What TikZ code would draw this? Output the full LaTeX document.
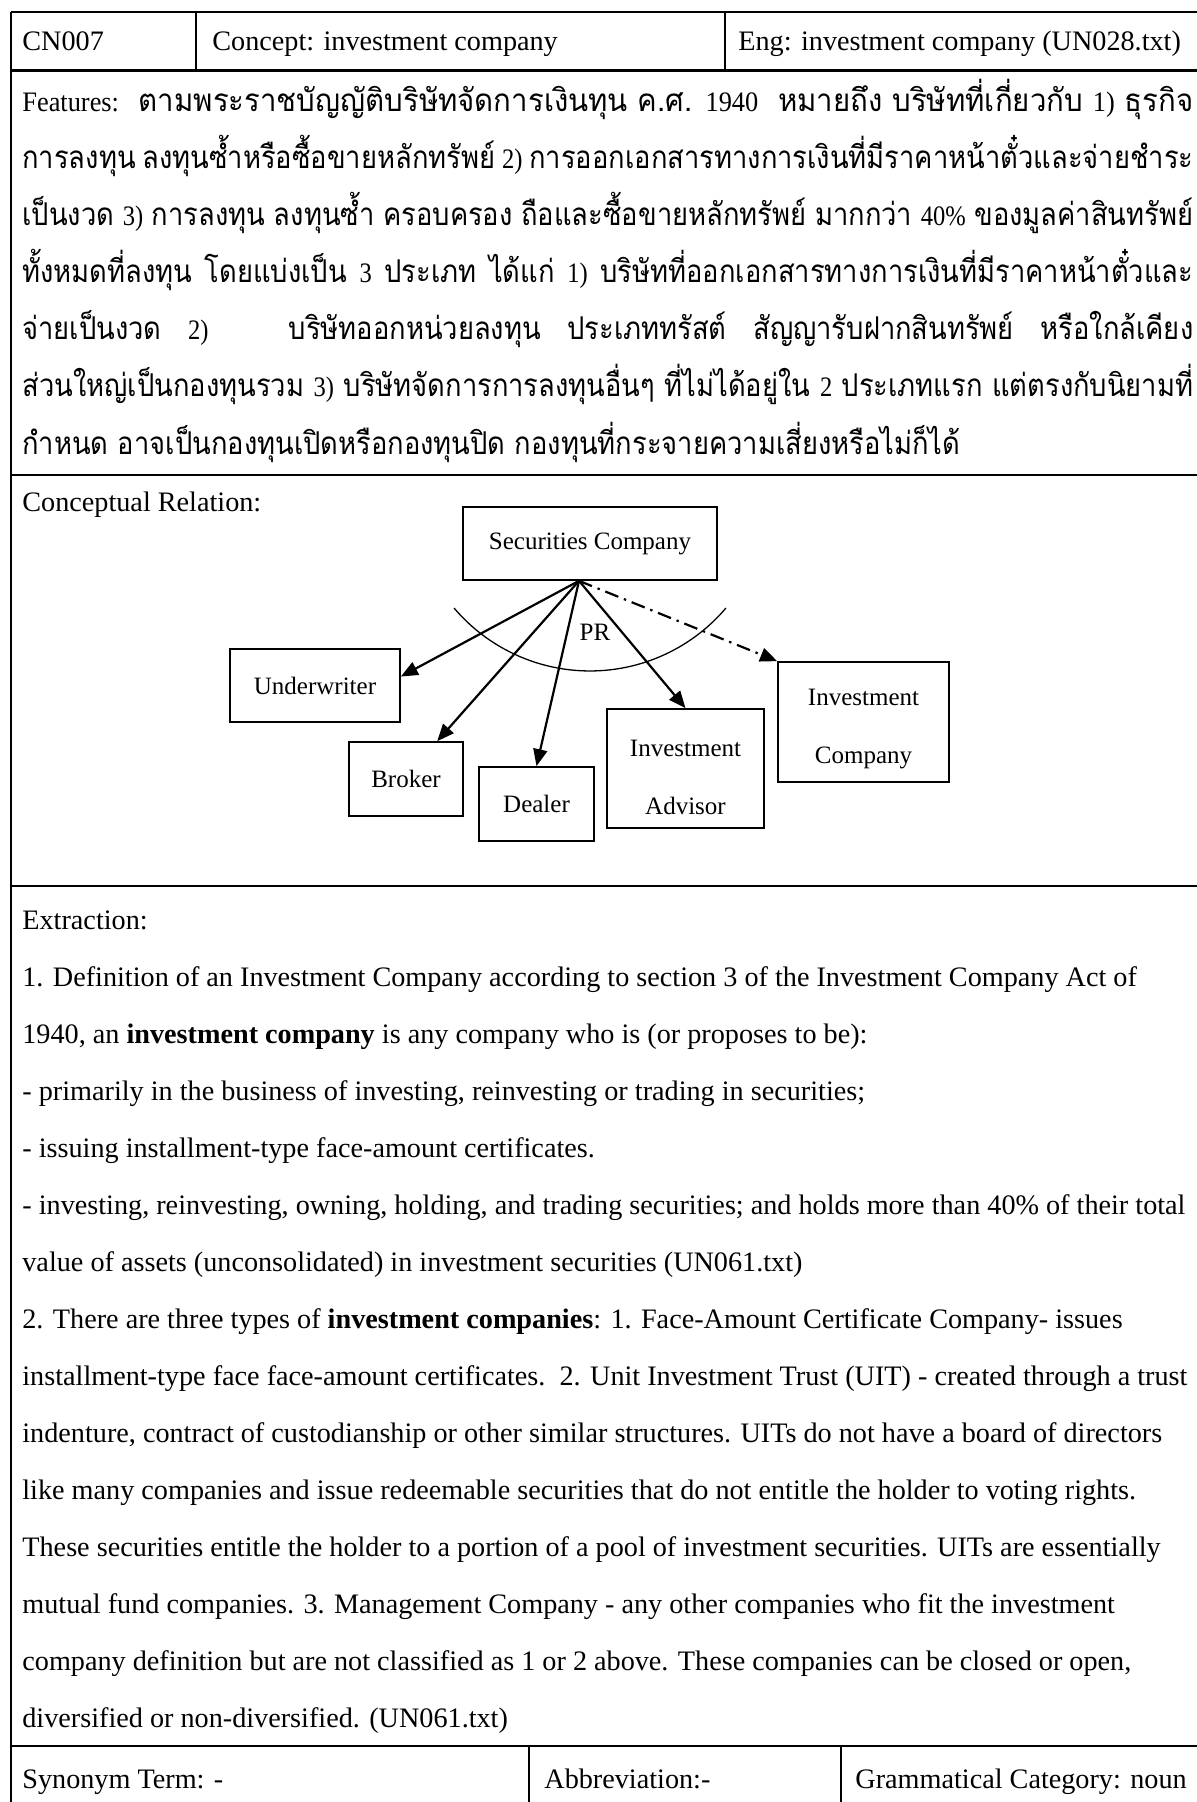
\documentclass[tikz,border=0pt]{standalone}
\usepackage{graphicx}
\usepackage{fontspec}
\setmainfont{Liberation Serif}
\newfontfamily\thaifont[Script=Thai]{Loma}
\usetikzlibrary{arrows.meta,calc}

\newlength\thaiwidth
\newlength\fitlen
\newsavebox\fitbox
\newcommand\bodyfont{\fontsize{14.1pt}{17pt}\selectfont}
\newcommand\diagfont{\fontsize{12.5pt}{29pt}\selectfont}
\newcommand\lat[1]{{\rmfamily\bodyfont #1}}
% squeeze or stretch one line of text to an exact width (in pt)
\newcommand\fitline[2]{\sbox\fitbox{#2}\setlength\fitlen{\wd\fitbox}%
  \pgfmathsetmacro\fitscale{#1/\fitlen}\scalebox{\fitscale}[1]{\usebox\fitbox}}
% condense by the common Thai factor, then justify by the spaces
\newcommand\justline[2]{\pgfmathsetmacro\justw{#1/\thaic}%
  \scalebox{\thaic}[1]{\makebox[\justw pt][s]{#2}}}

\begin{document}
% the closing line of the features sets both the size and the condensing of the Thai face
\settowidth\thaiwidth{\thaifont\fontsize{10pt}{12pt}\selectfont กำหนด อาจเป็นกองทุนเปิดหรือกองทุนปิด กองทุนที่กระจายความเสี่ยงหรือไม่ก็ได้}
\pgfmathsetmacro\thaisize{10*539/\thaiwidth}
\pgfmathsetmacro\thaic{469/539}
\newcommand\thaitext{\thaifont\fontsize{\thaisize pt}{\thaisize pt}\selectfont}

\begin{tikzpicture}[x=0.5pt,y=-0.5pt,
  rule/.style={line width=1.4pt},
  colrule/.style={line width=1.1pt},
  txt/.style={anchor=base west,inner sep=0pt,font=\bodyfont},
  thl/.style={anchor=base west,inner sep=0pt},
  box/.style={draw,line width=0.85pt,inner sep=0pt,font=\diagfont,align=center},
  boxtext/.style={inner sep=0pt,font=\diagfont,align=center},
  rel/.style={line width=1.1pt,-{Triangle[length=8.5pt,width=7pt]}},
  relmaybe/.style={rel,dash pattern=on 7pt off 3pt on 1.2pt off 3pt},
]
\useasboundingbox (0,0) rectangle (1197,1802);

% ---- table rules
\draw[rule] (11,12) -- (1197,12);
\draw[rule] (11,12) -- (11,1802);
\draw[rule] (11,70.5) -- (1197,70.5);
\draw[colrule] (196,12) -- (196,70.5);
\draw[colrule] (725,12) -- (725,70.5);
\draw[rule] (11,475) -- (1197,475);
\draw[rule] (11,886) -- (1197,886);
\draw[rule] (11,1746) -- (1197,1746);
\draw[colrule] (529,1746) -- (529,1802);
\draw[colrule] (841,1746) -- (841,1802);

% ---- header row
\node[txt] (id) at (22,50.5) {CN007};
\node[txt] (concept) at (212,50.5) {Concept: investment company};
\node[txt] (eng) at (738,50.5) {Eng: investment company (UN028.txt)};

% ---- features (Thai), justified lines
\node[thl] (f1) at (22,112) {\fitline{585.5}{\thaitext\lat{Features:}\ \ ตามพระราชบัญญัติบริษัทจัดการเงินทุน ค.ศ. \lat{1940}\ \ หมายถึง บริษัทที่เกี่ยวกับ \lat{1)} ธุรกิจ}};
\node[thl] (f2) at (22,169) {\justline{585.5}{\thaitext การลงทุน ลงทุนซ้ำหรือซื้อขายหลักทรัพย์\ \lat{2)} การออกเอกสารทางการเงินที่มีราคาหน้าตั๋วและจ่ายชำระ}};
\node[thl] (f3) at (22,226) {\justline{585.5}{\thaitext เป็นงวด \lat{3)} การลงทุน ลงทุนซ้ำ ครอบครอง ถือและซื้อขายหลักทรัพย์ มากกว่า \lat{40\%} ของมูลค่าสินทรัพย์}};
\node[thl] (f4) at (22,283) {\justline{585.5}{\thaitext ทั้งหมดที่ลงทุน โดยแบ่งเป็น \lat{3} ประเภท ได้แก่ \lat{1)} บริษัทที่ออกเอกสารทางการเงินที่มีราคาหน้าตั๋วและ}};
\node[thl] (f5) at (22,340) {\justline{585.5}{\thaitext จ่ายเป็นงวด \lat{2)}\ \ \ บริษัทออกหน่วยลงทุน ประเภททรัสต์ สัญญารับฝากสินทรัพย์ หรือใกล้เคียง}};
\node[thl] (f6) at (22,397) {\justline{585.5}{\thaitext ส่วนใหญ่เป็นกองทุนรวม \lat{3)} บริษัทจัดการการลงทุนอื่นๆ ที่ไม่ได้อยู่ใน \lat{2} ประเภทแรก แต่ตรงกับนิยามที่}};
\node[thl] (f7) at (22,454) {\scalebox{\thaic}[1]{\thaitext กำหนด อาจเป็นกองทุนเปิดหรือกองทุนปิด กองทุนที่กระจายความเสี่ยงหรือไม่ก็ได้}};

% ---- conceptual relation
\node[txt] (crel) at (22,511.5) {Conceptual Relation:};

\node[box,minimum width=127pt,minimum height=36.5pt] (sc) at (590,543.5) {Securities Company};
\node[box,minimum width=85pt,minimum height=36.5pt] (uw) at (315,685.5) {Underwriter};
\node[box,minimum width=57pt,minimum height=37pt] (br) at (406,779) {Broker};
\node[box,minimum width=57.5pt,minimum height=37pt] (dl) at (536.5,804) {Dealer};
\node[box,minimum width=78.5pt,minimum height=59.5pt] (ia) at (685.5,768.5) {};
\node[boxtext] (iat) at (685.5,777) {Investment\\Advisor};
\node[box,minimum width=85.5pt,minimum height=60pt] (ic) at (863.5,722) {};
\node[boxtext] (ict) at (863.5,729.5) {Investment\\Company};

% arc marking the grouped relation
\coordinate (arcL) at (454,608);
\draw[line width=0.65pt] (arcL) arc[start angle=139.7,end angle=40.3,radius=178.3];
\node[inner sep=0pt,font=\diagfont] (pr) at (595,632) {PR};

\coordinate (o) at ($(sc.south west)!0.457!(sc.south east)$);
\draw[rel] (o) -- ($(uw.north east)!0.38!(uw.south east)$);
\draw[rel] (o) -- ($(br.north west)!0.77!(br.north east)$);
\draw[rel] (o) -- (dl.north);
\draw[rel] (o) -- (ia.north);
\draw[relmaybe] (o) -- (ic.north west);

% ---- extraction
\node[txt] (ex) at (22,929.5) {Extraction:};
\node[txt] (e1) at (22,986.5) {1. Definition of an Investment Company according to section 3 of the Investment Company Act of};
\node[txt] (e2) at (22,1043.5) {1940, an \textbf{investment company} is any company who is (or proposes to be):};
\node[txt] (e3) at (22,1100.5) {- primarily in the business of investing, reinvesting or trading in securities;};
\node[txt] (e4) at (22,1157.5) {- issuing installment-type face-amount certificates.};
\node[txt] (e5) at (22,1214.5) {- investing, reinvesting, owning, holding, and trading securities; and holds more than 40\% of their total};
\node[txt] (e6) at (22,1271.5) {value of assets (unconsolidated) in investment securities (UN061.txt)};
\node[txt] (e7) at (22,1328.5) {2. There are three types of \textbf{investment companies}: 1. Face-Amount Certificate Company- issues};
\node[txt] (e8) at (22,1385.5) {installment-type face face-amount certificates.\ \ 2. Unit Investment Trust (UIT) - created through a trust};
\node[txt] (e9) at (22,1442.5) {indenture, contract of custodianship or other similar structures. UITs do not have a board of directors};
\node[txt] (e10) at (22,1499.5) {like many companies and issue redeemable securities that do not entitle the holder to voting rights.};
\node[txt] (e11) at (22,1556.5) {These securities entitle the holder to a portion of a pool of investment securities. UITs are essentially};
\node[txt] (e12) at (22,1613.5) {mutual fund companies. 3. Management Company - any other companies who fit the investment};
\node[txt] (e13) at (22,1670.5) {company definition but are not classified as 1 or 2 above. These companies can be closed or open,};
\node[txt] (e14) at (22,1727.5) {diversified or non-diversified. (UN061.txt)};

% ---- bottom row
\node[txt] (syn) at (22,1788) {Synonym Term: -};
\node[txt] (abbr) at (544,1788) {Abbreviation:-};
\node[txt] (gram) at (855,1788) {Grammatical Category: noun};
\end{tikzpicture}
\end{document}
